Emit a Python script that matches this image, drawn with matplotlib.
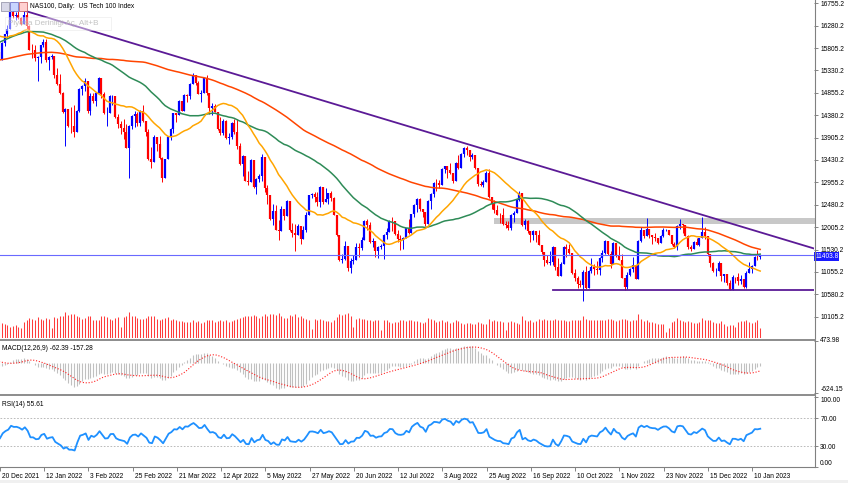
import numpy as np
import pandas as pd
import matplotlib
matplotlib.use('Agg')
import matplotlib.pyplot as plt
import matplotlib.transforms as mtransforms
from matplotlib.patches import Rectangle

plt.rcParams['font.family'] = ['Liberation Sans', 'DejaVu Sans']

W, H = 848, 483

# closes before the first visible bar (only used to warm up MAs / MACD / RSI)
pre_close = [14570, 14740, 14850, 14980, 15140, 15150, 14990, 15030, 15040, 14960,
             14990, 15090, 15100, 15200, 15090, 15150, 15100, 15050, 15130, 15160, 15160, 15030, 14870, 14990, 15140, 15370, 15400, 15430, 15320, 15470, 15630, 15580,
             15620, 15600, 15650, 15660, 15680, 15630, 15570, 15360, 15370, 15330, 15460, 15460, 15250, 14930, 14960, 15110, 15240, 15280, 15150, 14710, 14690, 14690,
             14790, 14470, 14660, 14730, 14860, 14790, 14690, 14630, 14760, 15020, 15150, 15300, 15410, 15430, 15550, 15370, 15510, 15570, 15600, 15770, 15850,
             15940, 16050, 16350, 16450, 16460, 16430, 16270, 15880, 15970, 16140, 16170, 16300, 16320, 16500, 16570, 16300, 16230, 16300, 16310, 15960, 16300, 16140,
             15860, 15960, 15710, 15850, 16330, 16380, 16140, 16330, 16100, 15930, 16260, 15870, 15720]

# visible daily bars, 20 Dec 2021 .. 13 Jan 2023
closes = [15561, 15914, 16095, 16213, 16567, 16488, 16498, 16434, 16320,
          16502, 16280, 15771, 15765, 15601, 15620, 15862, 15928, 15547, 15611, 15640, 15226, 15043, 14855, 14439, 14510, 14159, 14154, 14034, 14473, 14931,
          14998, 15100, 14466, 14797, 14674, 14842, 15160, 14821, 14418, 14437, 14786, 14795, 14350, 14185, 14100, 14024, 13693, 14155, 14366, 14399,
          14211, 14464, 14258, 14034, 13460, 13390, 13915, 13774, 13465, 13047, 13447, 13918, 14093, 14419, 14389, 14682, 14469, 14808, 14790, 15040, 15234, 15064, 14839,
          14862, 15168, 14843, 14535, 14573, 14453, 14084, 13998, 14263, 13897, 13924, 14209, 14021, 13721, 13355, 13523, 12991, 12955, 13420, 12855,
          13032, 13085, 13504, 12845, 12693, 12181, 12343, 11944, 11925, 12387, 12244, 12557, 11952, 11883, 11836, 12027, 11764, 11935, 12264, 12681, 12700, 12643,
          12534, 12852, 12547, 12612, 12720, 12626, 12269, 11831, 11305, 11319, 11605, 11140, 11285, 11300, 11576, 11561, 11733, 12141, 12050, 11687, 11707, 11503,
          11584, 11600, 11831, 11902, 12143, 12126, 11860, 11747, 11729, 11768, 11978, 11883, 12275, 12465, 12607, 12397, 12330, 12081, 12564, 12698, 12947,
          12935, 12896, 13235, 13297, 13208, 13163, 12994, 13360, 13269, 13560, 13680, 13643, 13489, 13531, 13265, 12920, 12910, 12955, 13160, 12642, 12502, 12362, 12273,
          12263, 12080, 12050, 11997, 12256, 12315, 12588, 12740, 12048, 12141, 11913, 11834, 11926, 11834, 11629, 11471, 11312, 11255, 11267, 11574, 11164, 10971,
          11218, 11582, 11550, 11465, 11039, 10926, 10800, 10771, 11062, 10714, 11071, 11161, 11121, 11087, 11354, 11465, 11708, 11446, 11222, 11669, 11406,
          11318, 10927, 10739, 10995, 11111, 11194, 10914, 11719, 11950, 11825, 11963, 11832, 11788, 11778, 11667, 11824, 11942, 11950, 11840, 11656, 11587, 12030,
          12080, 12049, 11825, 11579, 11541, 11688, 11631, 11765, 11906, 11821, 11442, 11255, 11077, 11081, 11245, 10975, 11002, 10830, 10678, 10947, 10940,
          10863, 10915, 10742, 11040, 11109, 11179, 11380, 11370, 11403.8]

highs = [15700, 15930, 16110, 16290, 16580, 16640, 16560, 16590, 16470,
         16600, 16560, 16300, 15890, 15860, 15640, 15870, 15990, 16000, 15630, 15680, 15520, 15380, 15260, 14880, 14530, 14470, 14550, 14600, 14500, 14950,
         15030, 15180, 14880, 14860, 14850, 14880, 15200, 15140, 14870, 14560, 14800, 14810, 14700, 14400, 14260, 14290, 14190, 14170, 14380, 14480,
         14450, 14490, 14590, 14250, 14080, 13700, 13950, 13830, 13940, 13500, 13460, 13930, 14110, 14430, 14430, 14700, 14640, 14820, 14820, 15060, 15270, 15200, 15110,
         14920, 15180, 15230, 14720, 14650, 14620, 14320, 14350, 14290, 14280, 14010, 14240, 14310, 14300, 13790, 13530, 13480, 13200, 13460, 13350,
         13050, 13130, 13560, 13440, 12900, 12650, 12500, 12480, 12150, 12450, 12380, 12580, 12500, 12100, 12070, 12070, 11920, 12020, 12320, 12690, 12730, 12750,
         12760, 12870, 12750, 12830, 12740, 12770, 12650, 12160, 11620, 11430, 11720, 11450, 11340, 11420, 11660, 11660, 11790, 12150, 12180, 12120, 11780, 11600,
         11600, 11650, 11850, 11980, 12160, 12210, 11990, 11950, 11830, 11800, 11990, 12170, 12290, 12500, 12620, 12630, 12400, 12240, 12580, 12720, 12970,
         13030, 13010, 13260, 13310, 13260, 13370, 13130, 13390, 13530, 13570, 13700, 13720, 13580, 13580, 13450, 13100, 12990, 13010, 13200, 13230, 12570, 12580, 12480,
         12300, 12410, 12130, 12140, 12290, 12350, 12600, 12780, 12730, 12180, 12150, 11880, 11950, 11930, 11950, 11590, 11470, 11420, 11490, 11600, 11450, 11340,
         11260, 11600, 11640, 11640, 11360, 11120, 10970, 10880, 11090, 11190, 11090, 11360, 11230, 11290, 11380, 11510, 11730, 11610, 11500, 11690, 11620,
         11600, 11430, 10880, 11060, 11140, 11380, 11130, 11730, 12010, 11940, 12190, 11910, 11820, 11880, 11780, 11830, 11990, 11970, 11950, 11800, 11680, 12050,
         12170, 12080, 12040, 11840, 11620, 11710, 11780, 11770, 12230, 12010, 11650, 11400, 11270, 11140, 11290, 11250, 11020, 11000, 10880, 10990, 10950,
         11030, 10990, 10860, 11080, 11260, 11200, 11390, 11520, 11420]

lows = [15430, 15600, 15850, 16050, 16250, 16450, 16410, 16420, 16300,
        16320, 16200, 15760, 15600, 15530, 15100, 15490, 15820, 15520, 15350, 15580, 15160, 15030, 14840, 14430, 13720, 14130, 14000, 13920, 14020, 14450,
        14800, 14900, 14420, 14380, 14630, 14570, 14990, 14750, 14400, 14150, 14560, 14600, 14330, 14100, 13980, 13880, 13680, 13050, 14090, 14120,
        14150, 14160, 14240, 13930, 13440, 13270, 13550, 13620, 13450, 12970, 13090, 13550, 13850, 14000, 14230, 14400, 14460, 14480, 14660, 14720, 15060, 15020, 14830,
        14670, 14850, 14810, 14400, 14380, 14440, 14060, 13950, 13960, 13880, 13780, 13880, 13990, 13670, 13330, 13100, 12980, 12900, 12980, 12830,
        12710, 12960, 12990, 12760, 12500, 12150, 12050, 11940, 11730, 12000, 12160, 12340, 11930, 11800, 11500, 11860, 11640, 11780, 11900, 12290, 12620, 12540,
        12460, 12440, 12500, 12560, 12500, 12570, 12260, 11820, 11290, 11250, 11300, 11070, 11040, 11230, 11390, 11370, 11520, 11730, 11950, 11660, 11580, 11380,
        11360, 11550, 11320, 11760, 11920, 11930, 11840, 11700, 11520, 11550, 11830, 11870, 11950, 12230, 12330, 12350, 12230, 12040, 12130, 12380, 12640,
        12780, 12830, 12960, 13160, 13040, 13130, 12940, 13260, 13240, 13330, 13490, 13530, 13400, 13450, 13230, 12880, 12880, 12860, 12990, 12630, 12380, 12300, 12260,
        12100, 12050, 11990, 11940, 11950, 12120, 12360, 12570, 12020, 11960, 11880, 11690, 11730, 11700, 11620, 11440, 11180, 11220, 11200, 11200, 11090, 10960,
        10970, 11300, 11380, 11430, 11020, 10870, 10720, 10740, 10440, 10700, 10820, 11030, 11000, 11020, 10980, 11270, 11440, 11410, 11140, 11220, 11380,
        11300, 10920, 10680, 10700, 10960, 11060, 10910, 11020, 11680, 11780, 11850, 11780, 11650, 11720, 11640, 11660, 11800, 11920, 11830, 11620, 11570, 11520,
        11970, 11890, 11820, 11540, 11500, 11570, 11620, 11610, 11860, 11760, 11400, 11170, 11050, 10960, 11130, 10870, 10840, 10780, 10670, 10740, 10830,
        10770, 10790, 10720, 10710, 11080, 11040, 11180, 11300, 11320]

volumes = [110, 95, 90, 80, 70, 75, 80, 70, 60,
           100, 115, 125, 120, 115, 130, 120, 110, 125, 120, 60, 130, 125, 135, 140, 160, 145, 150, 150, 140, 130,
           120, 125, 140, 135, 115, 110, 115, 135, 140, 130, 120, 115, 125, 130, 70, 130, 135, 165, 140, 135,
           125, 120, 120, 125, 140, 140, 135, 120, 115, 120, 125, 130, 115, 120, 110, 105, 105, 100, 100, 100, 115, 100, 105,
           95, 100, 110, 115, 110, 100, 105, 110, 105, 110, 100, 105, 115, 120, 125, 130, 140, 135, 140, 145,
           135, 125, 140, 150, 140, 150, 150, 145, 155, 135, 125, 125, 145, 140, 150, 130, 135, 125, 120, 115, 55, 120,
           115, 120, 110, 105, 105, 100, 115, 130, 150, 145, 150, 155, 140, 70, 120, 125, 120, 120, 110, 110, 105, 115,
           110, 50, 115, 110, 100, 95, 100, 100, 110, 115, 105, 110, 110, 105, 105, 100, 95, 100, 125, 120, 110,
           100, 105, 110, 100, 105, 95, 100, 110, 105, 95, 90, 95, 95, 85, 90, 100, 95, 90, 90, 120, 105, 110, 105,
           105, 100, 50, 100, 105, 100, 95, 90, 140, 110, 105, 110, 100, 105, 120, 115, 120, 110, 115, 115, 120, 115,
           110, 110, 105, 105, 115, 110, 110, 110, 140, 120, 110, 110, 110, 115, 115, 110, 115, 120, 120, 115, 105,
           110, 120, 120, 110, 105, 110, 115, 150, 120, 105, 115, 100, 100, 95, 90, 90, 85, 40, 60, 100, 105, 125,
           110, 105, 100, 105, 100, 95, 95, 100, 125, 115, 115, 110, 100, 95, 95, 105, 85, 75, 80, 80, 70,
           100, 105, 105, 110, 100, 95, 100, 110, 60]

closed_days = ['2021-12-24', '2022-04-15', '2022-12-26', '2023-01-02']
dates = pd.bdate_range('2021-12-20', '2023-01-13')
dates = dates[~dates.isin(pd.to_datetime(closed_days))]

price_ticks = [16755.2 - 475 * k for k in range(15)]
macd_ticks = [473.98, -624.15]
rsi_ticks = [100, 70, 30, 0]

# drawn objects (time index, price)
trend_a = (8, 16620)
trend_b = (294, 11560)
support_start, support_price = 200, 10682
zone_start, zone_lo, zone_hi = 179, 12072, 12199

n = len(closes)
assert len(highs) == n and len(lows) == n and len(volumes) == n and len(dates) == n, (n, len(highs), len(lows), len(volumes), len(dates))

allc = pd.Series(pre_close + closes, dtype=float)
sma20 = allc.rolling(20).mean().values[-n:]
sma50 = allc.rolling(50).mean().values[-n:]
sma100 = allc.rolling(100).mean().values[-n:]
ema12 = allc.ewm(span=12, adjust=False).mean()
ema26 = allc.ewm(span=26, adjust=False).mean()
macd = ema12 - ema26
signal = macd.rolling(9).mean()
macd = macd.values[-n:]
signal = signal.values[-n:]
delta = allc.diff()
up = delta.clip(lower=0).ewm(alpha=1 / 14, adjust=False).mean()
dn = (-delta.clip(upper=0)).ewm(alpha=1 / 14, adjust=False).mean()
rsi = (100 - 100 / (1 + up / dn)).values[-n:]

c = np.array(closes, dtype=float)
o = np.concatenate([[pre_close[-1]], c[:-1]])
hi = np.maximum(np.array(highs, dtype=float), np.maximum(o, c))
lo = np.minimum(np.array(lows, dtype=float), np.minimum(o, c))
x = np.arange(n)
cols = np.where(c >= o, '#0000ff', '#ff0000')

fig = plt.figure(figsize=(W / 100, H / 100), dpi=100)
fig.patch.set_facecolor('white')


def px_axes(x0, y0, x1, y1):
    a = fig.add_axes([x0 / W, 1 - y1 / H, (x1 - x0) / W, (y1 - y0) / H])
    a.set_facecolor('none')
    for s in a.spines.values():
        s.set_visible(False)
    return a


PXB = 2.768
xlim = (1 / PXB, 815 / PXB)
FS = 4.8
TICKC = '#707070'

# volumes (bottom of main window)
axv = px_axes(0, 298, 814, 338)
axv.vlines(x, 0, volumes, colors='#ff3b3b', lw=0.75)
axv.set_xlim(xlim)
axv.set_ylim(0, 250)
axv.set_xticks([])
axv.set_yticks([])

ax = px_axes(0, 0, 814, 338)
ax.set_xlim(xlim)
ax.set_ylim(9653, 16825)
xr = xlim[1]
ax.fill_between([zone_start, xr + 1], zone_lo, zone_hi, color='#c8c8c8', lw=0, zorder=0.5)
ax.vlines(x, lo, hi, colors=cols, lw=0.7, zorder=2)
ax.vlines(x, np.minimum(o, c), np.maximum(o, c), colors=cols, lw=1.6, zorder=2)
ax.plot(x, sma100, color='#ff4500', lw=1.1, zorder=3)
ax.plot(x, sma50, color='#2e8b57', lw=1.1, zorder=3)
ax.plot(x, sma20, color='#ffa500', lw=1.1, zorder=3)
slope = (trend_b[1] - trend_a[1]) / (trend_b[0] - trend_a[0])
ax.plot([trend_a[0], xr + 1], [trend_a[1], trend_a[1] + slope * (xr + 1 - trend_a[0])], color='#5b1a96', lw=1.3, zorder=4)
ax.plot([support_start, xr + 1], [support_price, support_price], color='#5b1a96', lw=1.3, zorder=4)
ax.axhline(closes[-1], color='#6a6aff', lw=0.8, zorder=4)
ax.set_xticks([])
ax.yaxis.tick_right()
ax.set_yticks(price_ticks)
ax.set_yticklabels(['%.1f' % p for p in price_ticks])
ax.tick_params(axis='y', length=3, width=0.6, color=TICKC, labelsize=FS, pad=1.5)
trans = mtransforms.blended_transform_factory(ax.transAxes, ax.transData)
ax.text(1.0015, closes[-1] - 20, '%.1f' % closes[-1], transform=trans, fontsize=FS, color='white', va='center', ha='left',
        bbox=dict(boxstyle='square,pad=0.12', fc='#1a1aff', ec='none'), zorder=10)

# MACD
axm = px_axes(0, 341, 814, 393)
axm.set_xlim(xlim)
axm.set_ylim(macd_ticks[1], macd_ticks[0])
axm.vlines(x, 0, macd, colors='#c0c0c0', lw=0.8)
axm.plot(x, signal, color='#ff2020', lw=0.8, ls=(0, (1, 1.6)))
axm.set_xticks([])
axm.yaxis.tick_right()
axm.set_yticks(macd_ticks)
axm.set_yticklabels(['%.2f' % v for v in macd_ticks])
axm.tick_params(axis='y', length=3, width=0.6, color=TICKC, labelsize=FS, pad=1.5)
mlabs = axm.get_yticklabels()
mlabs[0].set_va('center')
mlabs[1].set_va('bottom')
axm.text(0.002, 0.93, 'MACD(12,26,9) -62.39 -157.28', transform=axm.transAxes, fontsize=FS, va='top', ha='left')

# RSI
axr = px_axes(0, 396, 814, 467)
axr.set_xlim(xlim)
axr.set_ylim(0, 102)
for lvl in (70, 30):
    axr.axhline(lvl, color='#b0b0b0', lw=0.6, ls=(0, (2, 2)))
axr.plot(x, rsi, color='#1e90ff', lw=1.3)
axr.yaxis.tick_right()
axr.set_yticks(rsi_ticks)
axr.set_yticklabels(['%.2f' % v for v in rsi_ticks])
axr.tick_params(axis='y', length=3, width=0.6, color=TICKC, labelsize=FS, pad=1.5)
rlabs = axr.get_yticklabels()
rlabs[0].set_va('top')
rlabs[3].set_va('bottom')
axr.text(0.002, 0.93, 'RSI(14) 55.61', transform=axr.transAxes, fontsize=FS, va='top', ha='left')
tick_idx = list(range(0, n, 16))
axr.set_xticks(tick_idx)
axr.set_xticklabels(['%d %s' % (dates[i].day, dates[i].strftime('%b %Y')) for i in tick_idx], ha='left')
axr.tick_params(axis='x', length=3, width=0.6, color=TICKC, labelsize=FS, pad=1.5)
off = mtransforms.ScaledTranslation(2 / 100, 0, fig.dpi_scale_trans)
for lab in axr.get_xticklabels():
    lab.set_transform(lab.get_transform() + off)

# window frame, separators
ov = fig.add_axes([0, 0, 1, 1])
ov.set_xlim(0, W)
ov.set_ylim(H, 0)
ov.axis('off')
ov.set_facecolor('none')
ov.plot([814.5, 814.5], [0, 467], color='#808080', lw=0.8)
ov.plot([0, 815], [467, 467], color='#808080', lw=0.8)
for ys in (339.5, 394.5):
    ov.plot([0, 815], [ys, ys], color='#8c8c8c', lw=1.4)
ov.add_patch(Rectangle((0, 480), W, 3, fc='#f0f0f0', ec='none'))
ov.add_patch(Rectangle((1, 2), 8, 9, fc='#d8d8e8', ec='#8a8aa0', lw=0.5))
ov.add_patch(Rectangle((10, 2), 8, 9, fc='#c8d4ff', ec='#6060c0', lw=0.5))
ov.add_patch(Rectangle((19, 2), 8, 9, fc='#ffd0d0', ec='#c05050', lw=0.5))
ov.text(30, 7, 'NAS100, Daily:  US Tech 100 Index', fontsize=FS, va='center', ha='left')
ov.add_patch(Rectangle((5, 17), 106, 13, fc='white', ec='#d8d8d8', lw=0.5, alpha=0.45))
ov.text(8, 23.5, 'Piyasa Derinliği Aç, Alt+B', fontsize=5.9, va='center', ha='left', color='#b4b4b4', alpha=0.8)

fig.savefig('out.png', dpi=100, facecolor='white')
